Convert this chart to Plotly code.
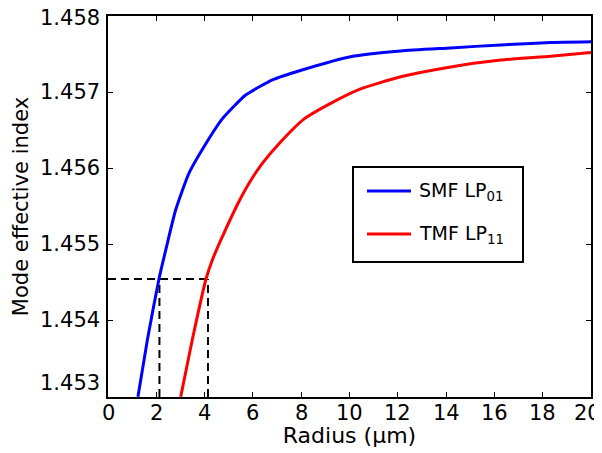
import plotly.graph_objects as go

# Data
smf_r = [1.24, 1.63, 2.11, 2.39, 2.80, 3.35, 4.05, 4.74, 5.70, 6.81, 8.03, 10.05, 12.12, 14.19, 16.26, 18.33, 20.0]
smf_n = [1.45299, 1.453737, 1.45454, 1.45492, 1.455447, 1.45593, 1.45632, 1.45665, 1.45696, 1.45716, 1.45729,
         1.457465, 1.45754, 1.45758, 1.45762, 1.45765, 1.45766]
tmf_r = [3.01, 3.49, 4.05, 4.32, 4.67, 5.36, 5.84, 6.39, 7.08, 8.10, 9.22, 10.46, 12.12, 14.19, 16.26, 18.33, 20.0]
tmf_n = [1.45299, 1.45374, 1.45453, 1.45479, 1.45505, 1.45552, 1.45580, 1.45606, 1.45632, 1.45664, 1.45685,
         1.45704, 1.45720, 1.45733, 1.45742, 1.45747, 1.45752]
series_names = ["SMF LP<sub>01</sub>", "TMF LP<sub>11</sub>"]
series_colors = ["#0000ff", "#ff0000"]

target_n = 1.45454
smf_cross_r = 2.13
tmf_cross_r = 4.14

x_range = [0, 20]
y_range = [1.452987, 1.458]
x_ticks = [0, 2, 4, 6, 8, 10, 12, 14, 16, 18, 20]
x_tick_labels = ["0", "2", "4", "6", "8", "10", "12", "14", "16", "18", "20"]
y_ticks = [1.453, 1.454, 1.455, 1.456, 1.457, 1.458]
y_tick_labels = ["1.453", "1.454", "1.455", "1.456", "1.457", "1.458"]

FONT = "DejaVu Sans"
FS = 21

# page body has an 8px margin: work in figure coordinates
OFF = 8
W, H = 602 - OFF, 453 - OFF
# plot area in page pixels (reference)
L, R, T, B = 108, 591, 16, 397


def px(xp):
    return (xp - L) / (R - L)


def py(yp):
    return (B - yp) / (B - T)


fig = go.Figure()

dash_style = dict(color="black", width=2, dash="8px,5px")
fig.add_trace(go.Scatter(x=[x_range[0], tmf_cross_r], y=[target_n, target_n], mode="lines",
                         line=dash_style, showlegend=False, hoverinfo="skip"))
fig.add_trace(go.Scatter(x=[smf_cross_r, smf_cross_r], y=[y_range[0], target_n], mode="lines",
                         line=dash_style, showlegend=False, hoverinfo="skip"))
fig.add_trace(go.Scatter(x=[tmf_cross_r, tmf_cross_r], y=[y_range[0], target_n], mode="lines",
                         line=dash_style, showlegend=False, hoverinfo="skip"))

for xs, ys, nm, col in [(smf_r, smf_n, series_names[0], series_colors[0]),
                        (tmf_r, tmf_n, series_names[1], series_colors[1])]:
    fig.add_trace(go.Scatter(x=xs, y=ys, mode="lines", name=nm, showlegend=False,
                             line=dict(color=col, width=3, shape="spline", smoothing=0.5)))

axis_common = dict(showline=True, linecolor="black", linewidth=2, mirror="ticks",
                   ticks="inside", ticklen=5, tickwidth=1, tickcolor="black",
                   showgrid=False, zeroline=False, automargin=False, showticklabels=False)

fig.update_xaxes(range=x_range, tickvals=x_ticks, title=dict(text="Radius (μm)", standoff=30,
                 font=dict(family=FONT, size=22, color="black")), **axis_common)
fig.update_yaxes(range=y_range, tickvals=y_ticks,
                 title=dict(text="Mode effective index", standoff=72,
                            font=dict(family=FONT, size=21, color="black")), **axis_common)

# tick labels as annotations (so edge labels are not dropped)
for v, t in zip(x_ticks, x_tick_labels):
    xs = -4 if v == x_ticks[-1] else 0
    fig.add_annotation(x=v, xref="x", y=0, yref="paper", text=t, showarrow=False,
                       xanchor="center", yanchor="middle", xshift=xs, yshift=-16,
                       font=dict(family=FONT, size=FS, color="black"))
for v, t in zip(y_ticks, y_tick_labels):
    ys = 13 if v == y_ticks[0] else (-2 if v == y_ticks[-1] else 0)
    fig.add_annotation(x=0, xref="paper", y=v, yref="y", text=t, showarrow=False,
                       xanchor="right", yanchor="middle", xshift=-6, yshift=ys,
                       font=dict(family=FONT, size=FS, color="black"))

# manual legend
fig.add_shape(type="rect", xref="paper", yref="paper", x0=px(353), x1=px(523), y0=py(262), y1=py(167),
              line=dict(color="black", width=2), fillcolor="white", layer="above")
for i, (nm, col) in enumerate(zip(series_names, series_colors)):
    yy = [191, 234][i]
    fig.add_shape(type="line", xref="paper", yref="paper", x0=px(367), x1=px(411), y0=py(yy), y1=py(yy),
                  line=dict(color=col, width=3), layer="above")
    fig.add_annotation(xref="paper", yref="paper", x=px(417), y=py(yy), text=nm, showarrow=False,
                       xanchor="left", yanchor="middle",
                       font=dict(family=FONT, size=FS - 2, color="black"))

fig.update_layout(
    width=W, height=H,
    margin=dict(l=L - OFF, r=W - (R - OFF), t=T - OFF, b=H - (B - OFF)),
    paper_bgcolor="white", plot_bgcolor="white",
    font=dict(family=FONT, size=FS, color="black"),
    showlegend=False,
)

fig.write_html("out.html")
